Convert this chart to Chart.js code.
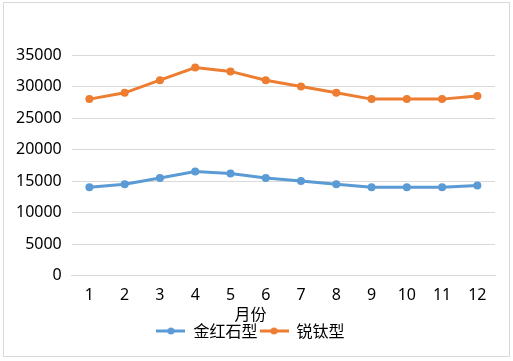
<!DOCTYPE html>
<html>
<head>
<meta charset="utf-8">
<script src="https://cdn.jsdelivr.net/npm/chart.js@4/dist/chart.umd.min.js"></script>
<style>
  html, body { margin: 0; padding: 0; background: #fff; }
  #wrap { position: absolute; left: 3px; top: 2px; width: 505px; height: 353px; border: 1px solid #d9d9d9; }
  #c { display: block; }
</style>
</head>
<body>
<div id="wrap"><canvas id="c" width="505" height="353"></canvas></div>
<script>
/* ===== DATA ===== */
const months = ["1", "2", "3", "4", "5", "6", "7", "8", "9", "10", "11", "12"];
const rutile = [14000, 14500, 15500, 16500, 16200, 15500, 15000, 14500, 14000, 14000, 14000, 14300];
const anatase = [28000, 29000, 31000, 33000, 32400, 31000, 30000, 29000, 28000, 28000, 28000, 28500];
const seriesNames = ["金红石型", "锐钛型"];
const xTitle = "月份";
const colors = ["#5B9BD5", "#ED7D31"];

const FONT = "'Noto Sans CJK SC', 'Noto Sans', sans-serif";
const NUMFONT = "'Noto Sans', 'Noto Sans CJK SC', sans-serif";

// legend marker: short line with a dot
function legendIcon(color) {
  const cv = document.createElement("canvas");
  cv.width = 29; cv.height = 10;
  const g = cv.getContext("2d");
  g.strokeStyle = color;
  g.lineWidth = 3;
  g.beginPath(); g.moveTo(0, 5); g.lineTo(29, 5); g.stroke();
  g.fillStyle = color;
  g.beginPath(); g.arc(14.5, 5, 3.5, 0, Math.PI * 2); g.fill();
  return cv;
}

function makeSet(label, data, color) {
  return {
    label,
    data,
    borderColor: color,
    backgroundColor: color,
    borderWidth: 3,
    pointRadius: 4,
    pointHoverRadius: 4,
    pointBorderWidth: 0,
    tension: 0,
  };
}

new Chart(document.getElementById("c"), {
  type: "line",
  data: {
    labels: months,
    datasets: [
      makeSet(seriesNames[0], rutile, colors[0]),
      makeSet(seriesNames[1], anatase, colors[1]),
    ],
  },
  options: {
    responsive: false,
    animation: false,
    layout: { padding: { top: 52, right: 14, left: 2, bottom: 7 } },
    plugins: {
      tooltip: { enabled: false },
      legend: {
        position: "bottom",
        // axis title sits centred over the legend, like the original
        title: {
          display: true,
          text: xTitle,
          color: "#000",
          font: { family: FONT, size: 16 },
          padding: { top: -1, bottom: -4 },
        },
        labels: {
          usePointStyle: true,
          pointStyleWidth: 29,
          font: { family: FONT, size: 16 },
          color: "#000",
          padding: 2,
          generateLabels: chart => chart.data.datasets.map((ds, i) => ({
            text: ds.label,
            pointStyle: legendIcon(colors[i]),
            fillStyle: colors[i],
            strokeStyle: colors[i],
            lineWidth: 0,
            datasetIndex: i,
            fontColor: "#000",
          })),
        },
      },
    },
    scales: {
      x: {
        offset: true,
        grid: { display: false },
        border: { color: "#d9d9d9" },
        ticks: { font: { family: NUMFONT, size: 16 }, color: "#000", padding: 2 },
      },
      y: {
        min: 0,
        max: 35000,
        ticks: { stepSize: 5000, font: { family: NUMFONT, size: 16 }, color: "#000", padding: 10, callback: v => String(v) },
        grid: { color: "#d9d9d9", drawTicks: false },
        border: { display: false },
      },
    },
  },
});
</script>
</body>
</html>
